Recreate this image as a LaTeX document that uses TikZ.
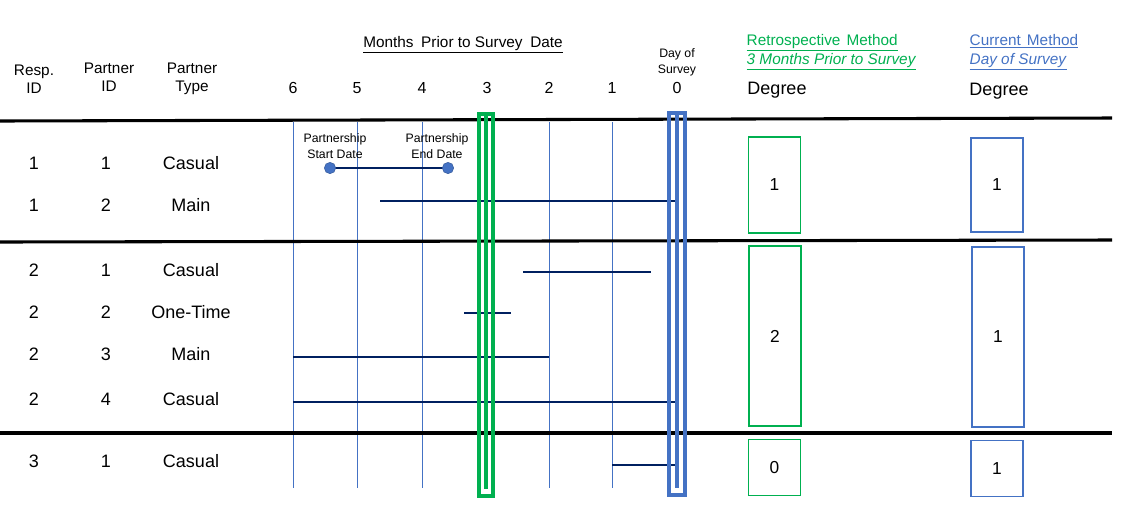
\documentclass[tikz,border=0pt]{standalone}
\usepackage{fontspec}
\setmainfont{Liberation Sans}
\usetikzlibrary{positioning}
\definecolor{retro}{HTML}{00B050}
\definecolor{curr}{HTML}{4472C4}
\definecolor{navy}{HTML}{002060}
\newcommand{\fs}[1]{\fontsize{#1}{1.2\dimexpr#1pt\relax}\selectfont}

\begin{document}
\begin{tikzpicture}[x=0.75pt,y=-0.75pt,
    cell/.style={font=\fs{13.5}},
    head/.style={font=\fontsize{11.5}{13.5}\selectfont,align=center},
    small/.style={font=\fontsize{9.2}{11.5}\selectfont,align=center},
    month/.style={draw=curr,line width=0.7pt},
    span/.style={draw=navy,line width=1.6pt},
    rule/.style={line width=2.3pt},
    dot/.style={circle,fill=curr,draw=curr!80!black,line width=0.4pt,inner sep=0pt,minimum size=8.5pt},
    gbox/.style={draw=retro,line width=0.9pt,minimum width=39pt,inner sep=0pt,font=\fs{13}},
    bbox/.style={draw=curr,line width=0.9pt,minimum width=39pt,inner sep=0pt,font=\fs{13}}]
  \useasboundingbox (0,0) rectangle (1127,522);

  % column heads
  \node[head] (hresp) at (34,79) {Resp.\\ID};
  \node[head] (hpid)  at (109,77) {Partner\\ID};
  \node[head] (htype) at (192,79) {Partner\\Type};
  \node[font=\fontsize{11.5}{13.5}\selectfont] (hmonths) at (463,45)
    {\underline{Months\hspace{0.5em}Prior to Survey\hspace{0.5em}Date}};
  \node[small,font=\fontsize{9.2}{12}\selectfont] (hday) at (677,62) {Day of\\Survey};
  \node[anchor=west,align=left,text=retro,font=\fontsize{11.5}{14.2}\selectfont] (hretro) at (742,52)
    {\underline{Retrospective\hspace{0.4em}Method}\\\underline{\textit{3 Months Prior to Survey}}};
  \node[anchor=west,align=left,text=curr,font=\fontsize{11.5}{14.2}\selectfont] (hcurr) at (965,52)
    {\underline{Current\hspace{0.4em}Method}\\\underline{\textit{Day of Survey}}};
  \node[cell] (dretro) at (777,90) {Degree};
  \node[cell] (dcurr)  at (999,91) {Degree};

  % month grid
  \foreach \m/\x in {6/293,5/357,4/422,3/487,2/549,1/612,0/677}
    \node[font=\fs{12}] (m\m) at (\x,88) {\m};
  \foreach \x in {293,357,422,549,612}
    \draw[month] (\x,122) -- (\x,488);

  % row separators
  \draw[rule] (0,121) -- (1112,118);
  \draw[rule] (0,242) -- (1112,240);
  \draw[rule] (0,433) -- (1112,433);

  % rows
  \foreach \i/\r/\p/\t/\y in {1/1/1/Casual/163,2/1/2/Main/205,3/2/1/Casual/270,
      4/2/2/One-Time/312,5/2/3/Main/354,6/2/4/Casual/399,7/3/1/Casual/461}{
    \node[cell] (r\i) at (34,\y) {\r};
    \node[cell] (p\i) at (106,\y) {\p};
    \node[cell] (t\i) at (191,\y) {\t};
  }

  % partnerships
  \foreach \i/\s/\e/\y in {1/330/448/168,2/380/677/201,3/523/651/272,4/464/511/313,
      5/293/549/357,6/293/677/402,7/612/677/465}{
    \coordinate (a\i) at (\s,\y);
    \coordinate (b\i) at (\e,\y);
    \draw[span] (a\i) -- (b\i);
  }
  \node[dot] (start) at (a1) {};
  \node[dot] (end) at (b1) {};
  \node[small] (lstart) at (335,146) {Partnership\\Start Date};
  \node[small] (lend) at (437,146) {Partnership\\End Date};

  % survey windows
  \draw[retro,line width=2.3pt] (479,114) rectangle (493,496);
  \draw[retro,line width=2.3pt] (486,114) -- (486,489);
  \draw[curr,line width=2.3pt] (669,113) rectangle (685,495);
  \draw[curr,line width=2.3pt] (677,113) -- (677,488);

  % degrees
  \node[gbox,minimum height=72pt] (g1) at (774.5,185) {1};
  \node[gbox,minimum height=135pt] (g2) at (775,336) {2};
  \node[gbox,minimum height=42.5pt] (g3) at (774.5,467.5) {0};
  \node[bbox,minimum height=70.5pt] (c1) at (997,185) {1};
  \node[bbox,minimum height=135pt] (c2) at (998,337) {1};
  \node[bbox,minimum height=42.5pt] (c3) at (997,468.5) {1};
\end{tikzpicture}
\end{document}
